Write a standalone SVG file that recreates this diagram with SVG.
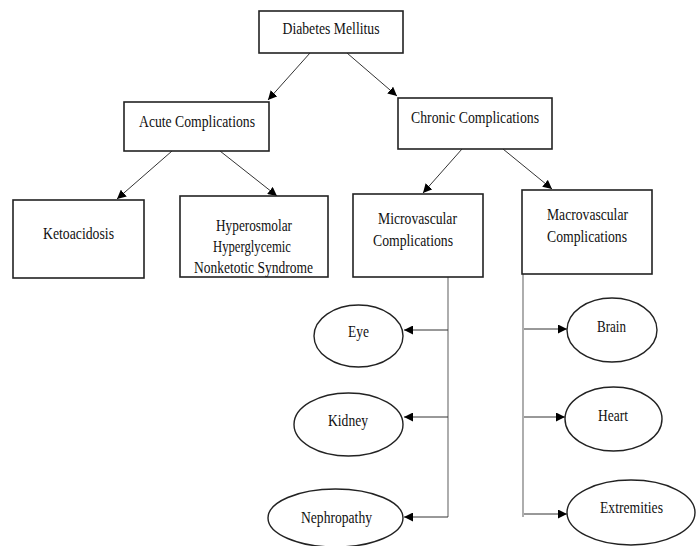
<svg xmlns="http://www.w3.org/2000/svg" width="700" height="546" viewBox="0 0 700 546">
<defs>
<marker id="ah" viewBox="0 0 10 10" refX="10" refY="5" markerWidth="9" markerHeight="9" markerUnits="userSpaceOnUse" orient="auto">
<path d="M0,0 L10,5 L0,10 Z" fill="#000"/>
</marker>
<style>
.box{fill:#fff;stroke:#222;stroke-width:1.6}
.ell{fill:#fff;stroke:#222;stroke-width:1.4}
.t{font-family:"Liberation Serif","Times New Roman",serif;font-size:17px;fill:#111;text-anchor:middle}
.c{stroke:#333;stroke-width:1;fill:none}
.v{stroke:#777;stroke-width:1.2;fill:none}
.a{marker-end:url(#ah)}
</style>
</defs>
<rect width="700" height="546" fill="#fff"/>
<g id="connectors">
<line class="c a" x1="310" y1="53" x2="268" y2="100"/>
<line class="c a" x1="347" y1="53" x2="397" y2="96"/>
<line class="c a" x1="172" y1="151" x2="117" y2="199"/>
<line class="c a" x1="220" y1="151" x2="277" y2="196"/>
<line class="c a" x1="462" y1="149" x2="423" y2="193"/>
<line class="c a" x1="503" y1="149" x2="552" y2="189"/>
<line class="v" x1="448" y1="277" x2="448" y2="517"/>
<line class="v" x1="523" y1="274" x2="523" y2="517"/>
<line class="c a" x1="448" y1="330" x2="404" y2="330"/>
<line class="c a" x1="448" y1="417" x2="404" y2="417"/>
<line class="c a" x1="448" y1="517" x2="404" y2="517"/>
<line class="c a" x1="524" y1="329" x2="567" y2="329"/>
<line class="c a" x1="524" y1="417" x2="565" y2="417"/>
<line class="c a" x1="524" y1="514" x2="567" y2="514"/>
</g>
<g id="diabetes">
<rect class="box" x="259" y="11" width="144" height="42"/>
<text class="t" x="331" y="34" textLength="97" lengthAdjust="spacingAndGlyphs">Diabetes Mellitus</text>
</g>
<g id="acute">
<rect class="box" x="124" y="102" width="145" height="49"/>
<text class="t" x="197" y="127" textLength="116" lengthAdjust="spacingAndGlyphs">Acute Complications</text>
</g>
<g id="chronic">
<rect class="box" x="398" y="98" width="154" height="51"/>
<text class="t" x="475" y="123" textLength="128" lengthAdjust="spacingAndGlyphs">Chronic Complications</text>
</g>
<g id="ketoacidosis">
<rect class="box" x="13" y="200" width="131" height="78"/>
<text class="t" x="78.5" y="239" textLength="71" lengthAdjust="spacingAndGlyphs">Ketoacidosis</text>
</g>
<g id="hhns">
<rect class="box" x="180" y="196" width="148" height="81"/>
<text class="t" x="254" y="231" textLength="76" lengthAdjust="spacingAndGlyphs">Hyperosmolar</text>
<text class="t" x="252" y="252" textLength="78" lengthAdjust="spacingAndGlyphs">Hyperglycemic</text>
<text class="t" x="253.5" y="273" textLength="119" lengthAdjust="spacingAndGlyphs">Nonketotic Syndrome</text>
</g>
<g id="microvascular">
<rect class="box" x="353" y="194" width="130" height="83"/>
<text class="t" x="417.5" y="224" textLength="79" lengthAdjust="spacingAndGlyphs">Microvascular</text>
<text class="t" x="413" y="246" textLength="80" lengthAdjust="spacingAndGlyphs">Complications</text>
</g>
<g id="macrovascular">
<rect class="box" x="522" y="190" width="130" height="84"/>
<text class="t" x="587.5" y="220" textLength="81" lengthAdjust="spacingAndGlyphs">Macrovascular</text>
<text class="t" x="587" y="242" textLength="80" lengthAdjust="spacingAndGlyphs">Complications</text>
</g>
<g id="eye">
<ellipse class="ell" cx="358.5" cy="336" rx="44.5" ry="31"/>
<text class="t" x="358.5" y="337" textLength="21" lengthAdjust="spacingAndGlyphs">Eye</text>
</g>
<g id="kidney">
<ellipse class="ell" cx="348.5" cy="424.5" rx="54.5" ry="31.5"/>
<text class="t" x="348" y="426" textLength="40" lengthAdjust="spacingAndGlyphs">Kidney</text>
</g>
<g id="nephropathy">
<ellipse class="ell" cx="335.5" cy="518" rx="67.5" ry="29"/>
<text class="t" x="336.5" y="523" textLength="71" lengthAdjust="spacingAndGlyphs">Nephropathy</text>
</g>
<g id="brain">
<ellipse class="ell" cx="612" cy="330" rx="45" ry="32"/>
<text class="t" x="611.5" y="332" textLength="29" lengthAdjust="spacingAndGlyphs">Brain</text>
</g>
<g id="heart">
<ellipse class="ell" cx="613.5" cy="419" rx="48.5" ry="32"/>
<text class="t" x="613" y="421" textLength="30" lengthAdjust="spacingAndGlyphs">Heart</text>
</g>
<g id="extremities">
<ellipse class="ell" cx="631" cy="512.5" rx="64" ry="32.5"/>
<text class="t" x="631.5" y="513" textLength="63" lengthAdjust="spacingAndGlyphs">Extremities</text>
</g>
</svg>
